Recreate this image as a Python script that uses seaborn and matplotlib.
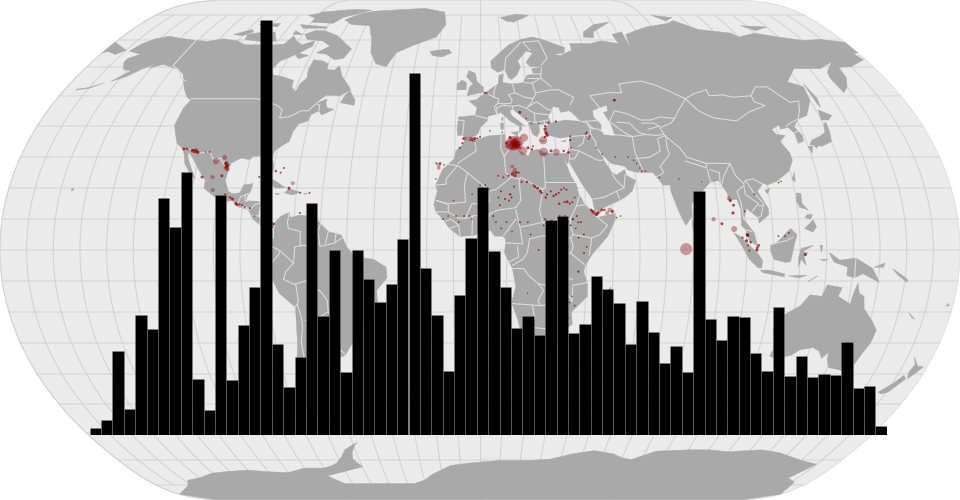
import numpy as np
import pandas as pd
import matplotlib
matplotlib.use("Agg")
import matplotlib.pyplot as plt
from matplotlib.patches import Polygon
import seaborn as sns

bar_values = [7, 15.3, 83.7, 25.7, 120.3, 105.7, 236.7, 208.3, 263.3, 55.7, 25.3, 240.3, 54.7, 109.7,
              147.7, 415, 90.7, 47.7, 78, 231.7, 118.7, 184.7, 63.3, 184.7, 156, 132.7, 150.7, 195.7,
              361.7, 167, 120.3, 64, 140, 196.7, 247.7, 183.7, 147.7, 106.7, 118.7, 100, 215, 218.7,
              101.7, 110.7, 159.3, 146, 131.7, 90.7, 134, 102.7, 72, 89, 62.7, 243.7, 116, 94.7,
              118.7, 117.7, 82, 63.7, 128.3, 59.3, 79.3, 58.3, 61.3, 60.3, 93.3, 47, 48.7, 9.3]

north_america = [(-168,65.6),(-166,68.3),(-162,70.3),(-156.5,71.3),(-150,70.5),(-141,69.7),(-135,69.3),(-128,70.3),(-120,69.5),(-115,68),(-108,68),(-100,68),(-96,68.3),(-94,71.5),(-91,69.5),(-87,68),(-82,69.5),(-81.5,67.5),(-87,64.5),(-93,62),(-94.5,59),(-92.5,57),(-88,56.5),(-82.5,55.2),(-82,52.9),(-79.5,51.3),(-79,54),(-77,56),(-78,59),(-77.5,62.5),(-73,62),(-70,61),(-69.5,59),(-66,58.8),(-64.5,60.3),(-61.5,56.5),(-57,53),(-56,51.8),(-60,50),(-66,50.2),(-70,47),(-65,49),(-65,47.5),(-64,46),(-61,45.5),(-65.5,43.6),(-67,45),(-70,43.7),(-70.5,41.7),(-74,40.7),(-75.5,38),(-76,35),(-78,34),(-81,32),(-81.3,30),(-80,26.8),(-80.4,25.2),(-81.8,26),(-82.8,28),(-84,30),(-86,30.4),(-89,30.2),(-90,29.2),(-93.5,29.7),(-97,28),(-97.5,25),(-97.8,22.5),(-96,19),(-94.5,18.2),(-91.5,18.5),(-90.5,21),(-87,21.5),(-87.5,19),(-88.5,17.5),(-88.8,15.9),(-84,15.8),(-83.3,14.8),(-83.7,11),(-82,9),(-79.5,9.6),(-77.4,8.7),(-78.3,8),(-80,7.3),(-81.5,8),(-83,8.3),(-85.5,10),(-87.5,13),(-91.5,14),(-94,16),(-96.5,15.7),(-101,17.3),(-105.5,20),(-105.5,22.5),(-109,26),(-112.7,30),(-114.8,31.8),(-114.5,30),(-111,25),(-109.5,23),(-112,24.7),(-115,28),(-116,30.5),(-117.2,32.5),(-120.5,34.5),(-122.5,37.5),(-124.3,40.3),(-124,46),(-122.7,48.5),(-125,49.5),(-128,52),(-130.5,54.5),(-133.5,57.5),(-138,59.2),(-146,60.8),(-151,59.5),(-150,61),(-154,59),(-158,56.5),(-163,54.8),(-158,58.5),(-162,59),(-165,61.5),(-165,63),(-161,64.5)]
south_america = [(-77.4,8.7),(-75,11),(-72,12.2),(-71.5,10.5),(-68,11.3),(-62,10.7),(-60,8.5),(-57,6),(-52,4.8),(-50,1),(-48,-1),(-44,-2.5),(-40,-3),(-35.3,-5.5),(-35,-9),(-39,-13),(-39,-18),(-41,-22),(-45,-23.5),(-48.5,-26),(-49,-29),(-53.5,-34),(-56.5,-34.9),(-58.4,-34),(-57,-36.5),(-58,-38.5),(-62,-39),(-65,-41),(-65,-45),(-68,-50),(-68.5,-52.5),(-65.3,-54.8),(-69,-55.5),(-74,-52),(-75.5,-47),(-73.5,-42),(-73.5,-37),(-71.5,-30),(-70.3,-18.5),(-76,-14),(-79,-8),(-81.3,-5),(-80,-2.5),(-80,1),(-78.5,2.5),(-77.3,4),(-77.4,7)]
africa = [(-6,35.8),(-2,35.2),(3,36.8),(10,37.3),(10.2,34),(11,33.2),(15,32.3),(19,30.3),(20,32),(23,32.6),(25,31.6),(29,31),(32.4,31.2),(32.6,29.9),(33.5,28),(35,24),(37,21),(37.5,18.5),(39.5,15),(43,12),(44,10.5),(51,11.9),(51,10),(48,4.5),(42,-1.5),(39.5,-5),(39,-7),(40.5,-11),(40.7,-15),(35,-20),(35.5,-24),(32.8,-26),(32.5,-29),(28,-33),(25,-34),(20,-34.8),(18.4,-34),(17,-29.5),(14.5,-22.5),(12,-17),(13.5,-12),(12.2,-6),(9.2,-1),(9.7,3.5),(8.5,4.5),(5.5,4.5),(4,6.3),(1,5.9),(-2,4.8),(-7.5,4.4),(-11.5,7),(-13.5,9.5),(-16.7,12.5),(-17.5,14.7),(-16.3,19),(-17,21),(-14.5,26),(-10,29.5),(-9.5,32),(-6.8,34)]
eurasia = [(-9,37),(-9.3,39),(-8.8,43),(-2,43.5),(-1.2,46),(-4.7,48.3),(-1.5,48.7),(1.5,50.5),(4,52),(8,54),(8.5,57),(10.5,57.5),(10,54.5),(14,54),(19,54.4),(21,57),(24,57.3),(23.5,59.3),(30,60),(23,60),(21.3,61.5),(25,65),(22,65.7),(17.5,62),(18.5,60),(16.5,57),(14,55.5),(12.8,56),(11.2,59),(8,58),(5.2,59.5),(5,62),(14,68),(20,70),(26,71),(31,70),(41,67),(40,65),(35,64.5),(38,64),(44,66),(44,68.5),(54,68.5),(60,69.5),(68,68.5),(67,72),(72.5,73),(73,67),(74,72),(80,73.5),(87,75),(100,76.5),(104,77.7),(113,74),(128,72.5),(130,71),(140,72.5),(150,71),(160,69.7),(170,70),(180,69),(180,65),(177.5,64.7),(179,62.5),(170,60),(164,59.8),(163,56),(160,53),(156.7,51),(155.7,56),(156.7,58),(163,61.7),(155,59.3),(143,59.3),(135.5,54.7),(141,53),(140,48.5),(135,43.5),(130.7,42.3),(127.5,39.8),(129.4,37),(129,35.2),(126.5,34.4),(126.6,37.7),(125,39.6),(121.5,39),(122,40.5),(118,39),(119,37.3),(122.5,37),(119.5,35),(121.8,31.5),(122,29),(119.5,25.5),(114,22.3),(110,21),(108.5,21.7),(105.8,19),(109,13.5),(109,11.5),(105,8.7),(105,10.3),(100.8,13.5),(99.3,10),(103,5.5),(104,1.4),(101,3),(100,6.5),(98.3,8),(98.6,13),(97.5,16.5),(94.5,16),(94.2,18.5),(91.5,22.5),(88,21.7),(86,20),(82,16.5),(80.2,15),(80,11),(77.5,8),(76,10.5),(74.5,14),(72.8,19),(72.8,21),(70,21),(69,22.5),(66.8,25),(61.5,25),(57.3,25.8),(56.3,27),(51,28),(48.7,30.2),(48,29.5),(50,26.5),(51,25),(52.5,24.2),(56,26),(56.5,24),(59.8,22.5),(58,19),(55,17),(52,15.7),(45,13),(43.3,12.8),(42.7,16.5),(39,21.5),(35,28),(34.8,29.5),(34.2,27.8),(32.6,29.9),(32.4,31.2),(34.2,31.3),(35.5,33.5),(36,36.6),(32,36.1),(30.5,36.5),(27.5,37),(26.3,39.5),(29,41),(35,42),(41.5,41.5),(38,44.5),(37,45),(33.5,44.5),(33,46),(30.7,46.5),(28,43),(29,41.2),(26,40.7),(24,40.5),(24,38),(22.8,36.5),(21.2,37.5),(19.5,41.5),(13.7,45.6),(12.4,45),(13,43.5),(18.4,40),(16.9,40.5),(17,39),(15.8,38),(16,40),(12.3,41.7),(8.8,44.4),(3.3,43.2),(3,41.8),(0,39.5),(-0.7,37.7),(-2,36.8),(-5.5,36),(-7,37.1)]
chukotka = [(-180,69),(-175,67.5),(-170,66),(-173,64.4),(-178,65.5),(-180,65)]
australia = [(114,-22),(113.5,-26),(115.7,-32),(115,-34.3),(118,-35),(123.5,-34),(126,-32.3),(131,-31.5),(134,-32.7),(136,-35),(138,-33),(138.5,-35.5),(140.5,-38),(144,-38.5),(146.5,-39),(150,-37.3),(151.5,-33),(153,-30),(153.5,-26),(150.8,-23),(146.5,-19),(145.5,-15),(143.5,-14),(142.5,-10.7),(141.5,-13.5),(140.8,-17.5),(135.7,-15),(136.8,-12.2),(131,-11.3),(129.5,-15),(125,-14.5),(122,-18),(117,-20.7)]
antarctica = [(-180,-85),(-163,-80.5),(-158,-78),(-150,-77),(-140,-75),(-130,-74.3),(-120,-73.8),(-110,-74.5),(-100,-74.8),(-90,-73),(-80,-73),(-75,-72),(-72,-71),(-68,-68.5),(-65,-66),(-60,-64),(-57.5,-63.3),(-59,-64),(-62,-67),(-63,-69.5),(-60,-72.5),(-81,-76.2),(-74.5,-79.5),(-36,-79.5),(-30,-78),(-25,-75.5),(-15,-72),(-5,-71),(10,-70),(25,-70),(35,-69.5),(45,-67.5),(55,-66.3),(65,-67.5),(70,-69),(75,-69.7),(85,-66.5),(100,-66),(110,-66),(120,-66.7),(135,-66),(145,-67),(160,-70),(170,-71.5),(165,-77),(172,-79),(180,-85),(180,-90),(-180,-90)]
arctic_islands = [
    [(-80,73.5),(-72,71.5),(-67,69),(-62,66.5),(-64,63),(-68,62.5),(-73,64.5),(-78,65),(-73,67.5),(-78,69.5),(-86,70),(-89,72),(-85,73.5)],
    [(-117,70),(-105,69),(-101,69.5),(-105,73),(-113,72.7),(-118,72)],
    [(-125,72),(-118,74),(-116,73),(-120,71.5)],
    [(-90,77),(-78,76.5),(-75,79),(-62,82.5),(-72,83),(-90,81.5)],
    [(-95,76),(-80,75),(-80,74.5),(-92,74.5)],
    [(-117,76),(-106,75),(-106,76.5)],
    [(-95,80),(-87,78),(-90,81)],
    [(-95,73.5),(-90,72),(-95,72)],
    [(-87,65),(-81,64),(-85,62.8),(-87,64)],
    [(-73,78),(-66,81),(-60,82),(-32,83.5),(-20,81.5),(-18,76),(-22,71),(-32,68),(-40,65),(-43,60),(-48,61),(-52,65),(-54,70),(-58,75.5),(-68,76)],
    [(11,79),(20,80.5),(27,80),(18,77),(14,77.5)],
    [(52,71),(57,70.7),(58,73),(69,77),(60,76),(53,73)],
    [(95,80),(105,79),(100,77.5)],
    [(137,75.5),(150,75),(142,73.5)],
]
islands = [
    [(-59,47.7),(-53,46.8),(-53,48.5),(-56,51.5),(-57.5,50.5)],
    [(-24,65.5),(-20,66),(-15,66.3),(-13.6,65),(-18,63.5),(-22.5,64)],
    [(-85,21.9),(-80,23),(-75,20.5),(-74.2,20.2),(-78,20),(-82,22.3)],
    [(-74.4,18.5),(-73,19.9),(-68.5,18.7),(-71.5,17.8)],
    [(-78.3,18.4),(-76.3,18.2),(-77,17.8)],
    [(-67.2,18.4),(-65.7,18.3),(-66.5,18)],
    [(-5.5,50),(1.4,51.2),(1.5,52.8),(-1.5,55),(-2,57.6),(-5,58.6),(-6,56.5),(-3,54),(-4.5,53),(-5,51.7)],
    [(-10,52),(-6,52),(-6,54.5),(-8,55.3),(-10,54)],
    [(12.5,38),(15.5,38.2),(15,36.7)],
    [(8.3,41),(9.7,41),(9.5,39),(8.5,39)],
    [(8.7,42.5),(9.5,43),(9.3,41.5)],
    [(23.6,35.5),(26.3,35.2),(24.5,34.9)],
    [(32.3,35),(34.5,35.6),(33.8,34.9)],
    [(49.3,-12),(50.5,-16),(47.5,-24.8),(45,-25.5),(43.5,-23),(44.3,-17),(46,-15.8)],
    [(80,9.7),(81.8,7.5),(80.5,6),(79.8,7.5)],
    [(130.9,34),(135.5,33.5),(140,35),(141,38),(141.4,41.3),(140,40.5),(139,38),(136.5,36.8),(132.5,35.5)],
    [(140,42),(141,45.3),(145.3,43.5),(143,42)],
    [(130,33.5),(131.8,33.5),(130.7,31.2)],
    [(132.5,33.8),(134.5,34),(133,32.8)],
    [(142,54.2),(143.5,49),(142.5,46),(142,48)],
    [(120,23),(121.5,25.2),(121,22)],
    [(108.7,19.3),(110.8,20),(109.5,18.2)],
    [(120,16),(120.6,18.5),(122.2,18.3),(122,15),(124,13),(121,13.8)],
    [(122,7),(125.5,9.8),(126.5,7.5),(125,5.8)],
    [(122.5,10.5),(123.5,11.5),(125.5,11.5),(124.5,10)],
    [(95.3,5.6),(98,4.2),(104,-1),(106,-3.3),(105.8,-5.8),(104.5,-5.8),(101,-3),(98.5,1)],
    [(105.3,-6.5),(108.5,-6.5),(114.5,-7.7),(114.5,-8.7),(106.5,-7.4)],
    [(109,1.5),(111.5,2.5),(116.7,7),(119,5),(117.7,1),(116.5,-3.8),(114.5,-4),(110.2,-3),(109,-0.5)],
    [(119.5,-5.5),(119.5,-2.5),(120.5,0.5),(125,1.5),(121,-0.5),(123,-1),(121.5,-2),(122.5,-5),(120.5,-3)],
    [(127.5,-3),(130.5,-3),(129,-3.6)],
    [(127.5,1.5),(128.5,1.5),(128,-0.8)],
    [(131,-0.8),(135,-3.3),(141,-2.6),(147.5,-6),(150.5,-10.5),(144,-7.7),(141,-9),(138,-8.3),(138,-5.5),(133,-4),(132,-2.7)],
    [(116,-8.4),(119,-8.2),(123,-8.2),(120,-9)],
    [(123.5,-10.3),(127,-8.4),(125,-9.5)],
    [(148,-5.6),(152,-4.2),(151.5,-5.6)],
    [(155,-6),(161,-9.5),(161,-10.5),(157,-8)],
    [(164,-20.3),(167,-22.4),(165.5,-21.8)],
    [(144.7,-40.8),(148.3,-40.8),(147,-43.6),(145.5,-42.8)],
    [(172.7,-34.5),(176,-37.5),(178.5,-37.7),(177,-39.5),(175,-41.6),(173.8,-39.5),(174.7,-37)],
    [(172.7,-40.5),(174.3,-41.7),(170.7,-45.9),(168.5,-46.6),(166.5,-46),(170.5,-43)],
    [(178,-17.3),(178.7,-18),(177.4,-18.2)],
    [(-156,20),(-155,19.7),(-155.7,19)],
    [(-61,-51.4),(-58,-51.4),(-59.5,-52.2)],
    [(-175,52.2),(-170,52.8),(-165,54.4),(-170,52.5),(-175,51.9)],
]
caspian = [(47,45),(53,46.7),(53,45),(51,44.5),(53,41),(54,37),(50,37.3),(49,38.5),(49.5,40.5),(47,43)]

borders_americas = [
    [(-141,69.7),(-141,60.3),(-137,59),(-133,56),(-130,55)],
    [(-123,49),(-95,49),(-89.5,48),(-84.5,46.5),(-82.5,45.3),(-82.5,42.7),(-79,43),(-76.5,44),(-74.7,45),(-71.5,45),(-70,46.5),(-69,47.3),(-67.5,47),(-67,45)],
    [(-117.1,32.5),(-114.7,32.7),(-111,31.3),(-108,31.5),(-106.5,31.7),(-104.5,29.6),(-103,29),(-101.5,29.8),(-99.5,27.5),(-97.2,25.9)],
    [(-92,14.6),(-91,17.2),(-89,17.9),(-88.3,18.3)], [(-89.2,17.9),(-89.2,15.9),(-88.2,15.7)],
    [(-90,13.8),(-89.2,14.3),(-88,13.2)], [(-89.2,14.3),(-87,13),(-85,14.9),(-83.2,15)],
    [(-85.7,11.2),(-83.7,11)], [(-83,8.3),(-82.8,9.5)], [(-77.3,8.6),(-77.3,7.5)],
    [(-72,12),(-72.5,9),(-72,7),(-67.5,6),(-67.5,2),(-66.9,1.2)],
    [(-60,8.5),(-61,5.5),(-60.7,5.2)], [(-57,6),(-58,2)], [(-54,5.8),(-54.5,2.3)],
    [(-51.7,4),(-54.5,2.3),(-58,1.5),(-60,1.2),(-60.7,5.2),(-64,4),(-64,1.5),(-67,1.5),(-69.5,1),(-69.9,-4.2),(-73,-7),(-74,-9.5),(-70.5,-11),(-69.5,-11),(-65.5,-10),(-60,-13.7),(-58,-16.3),(-58,-20),(-55,-24),(-54.5,-26),(-57.5,-30),(-53.5,-33.7)],
    [(-80.3,-3.4),(-78.5,-4.5),(-75.5,-1.5),(-75,-0.2),(-78.8,1.4)], [(-75,-0.2),(-70,-4.2)],
    [(-69.5,-11),(-69,-16.3),(-69.5,-17.5),(-70.4,-18.4)],
    [(-69.5,-17.5),(-68.5,-22),(-68.5,-24.5),(-70,-30),(-70,-35),(-71.5,-40),(-72,-50),(-69,-52)],
    [(-67,-22.8),(-62.6,-22.2),(-58,-20)], [(-62.6,-22.2),(-58,-27.2),(-54.5,-26)], [(-57.5,-30),(-58.3,-34)],
]
borders_africa = [
    [(-2,35),(-1.5,32),(-8.7,28)], [(-8.7,27.3),(-13,27.7)], [(-17,21),(-13,21.3),(-13,23),(-8.7,27.3)],
    [(-4.8,25),(-6,21),(-5.5,15.5),(-12,15),(-16.5,16)], [(-8.7,27.3),(-4.8,25),(1.2,20.8),(3.2,19),(4.2,19.2),(6,19.5),(12,23.5)],
    [(9.5,30.2),(10,25),(12,23.5)], [(8.5,37),(8.2,33),(9.5,30.2),(11.5,32.5)], [(25,31.6),(25,20)],
    [(25,20),(24,20),(24,19.5),(16,23.4),(15,23)], [(15,23),(15.5,16),(13.5,13.7)], [(12,23.5),(15,23)],
    [(3.6,11.7),(7,13),(10,13.3),(13.5,13.7)], [(24,19.5),(22.5,13),(23.5,9)], [(25,22),(36.9,22)],
    [(23.5,9),(27,9.5),(33,10),(34,10)], [(36.5,14.3),(34,10),(34,8)], [(34,8),(35,5)], [(36.5,14.3),(38,18)],
    [(36.5,14.3),(40,14.7),(43,12.5)], [(43,11.5),(47.9,8),(45,5),(41.9,3.9)], [(41.9,3.9),(41,-1.7)],
    [(35,5),(41.9,3.9)], [(35,5),(34,4),(31,3.7),(29.6,-1.4),(29,-4.5),(29,-8.5)], [(34,-1),(37.5,-3.5),(39.2,-4.7)],
    [(29.6,-1),(34,-1),(35,1),(34,4)], [(40.4,-10.5),(34.9,-11.5)], [(34.9,-9.5),(29,-8.5)],
    [(22,-11),(28,-12),(29.5,-13),(28.5,-9)], [(12.2,-6),(16.5,-6),(18,-8),(22,-11)], [(22,-11),(24,-13),(22,-16.5),(23,-18)],
    [(11.7,-17.3),(23,-18),(25,-17.8)], [(20,-18),(21,-22),(20,-25),(20,-28.5),(16.5,-28.6)],
    [(20,-25),(25.5,-25.5),(29,-22.2),(31.5,-22.3)], [(31.5,-22.3),(33,-19),(30.5,-15.6)], [(25,-17.8),(30.5,-15.6)],
    [(33,-14),(35,-16.8),(35,-12)], [(32,-26.8),(31.5,-22.3)], [(18.6,3.6),(23,4.5),(27.5,5)],
    [(12.2,-5),(16,-3),(17.7,-1),(18.6,3.6)], [(11,-3.8),(14.5,-2.3),(14,1.3)], [(9.8,2.3),(16,2),(15,7.5),(13.5,13)],
    [(8.8,4.6),(13.5,10)], [(15.5,7.5),(18.5,8),(23.5,9)], [(23.5,9),(27.5,5)], [(2.7,6.3),(3.6,11.7)],
    [(1.2,6.1),(0,11)], [(-3,5),(-2.8,11)], [(-5.5,10.3),(-2.8,11),(2.4,11.5)], [(-5.5,10.3),(-3,15),(1,15)],
    [(3.2,19),(3.5,15.5),(1,15),(2.4,11.5),(3.6,11.7)], [(-12,12.3),(-8,10.3),(-5.5,10.3)],
    [(-16.5,16),(-12,14.7),(-12,12.3),(-16.7,12.4)], [(-13,9.3),(-11,10),(-8,8)], [(-11.5,7),(-8,8),(-7.5,4.4)],
]
borders_eurasia = [
    [(-1.8,43.4),(3,42.5)], [(-8.8,42),(-6.5,41.7),(-7,37.2)], [(2.5,51),(6,49.5),(8,49),(7.5,47.5),(6,46.2),(7,44),(7.5,43.8)],
    [(6,49.5),(6,51.5),(7,53.3)], [(14.2,54),(15,51),(12.2,50.3),(13.7,48.5),(13,47.5),(10,47.3),(7.5,47.5)],
    [(19.5,54.4),(23,54.3),(24,50.5),(22.5,49),(19,49.5),(15,51)], [(7,44),(7,46),(10,46.8),(13.7,46.5),(13.7,45.6)],
    [(13.7,46.5),(16,46.8),(19,46),(22.5,44.2),(22.5,41.2),(19.5,41.5)], [(22.5,49),(22,48),(20,46.2)],
    [(20,46.2),(24,48),(28,45.5),(29.7,45.3)], [(22.5,44.2),(28.5,43.7)], [(22.5,41.2),(26.3,41.7),(28,42)],
    [(26.3,40.7),(26.3,41.7)], [(38,47),(40,49.5),(34,52),(31,52),(24,51)], [(23,54.3),(27,56),(31,53)],
    [(28,59.5),(27,56)], [(21,56),(26,56)], [(24,57.3),(27.5,57.5)], [(28,60.5),(31.5,63),(29,69.5)],
    [(11.2,59),(12,63),(20,69)], [(24,66),(21,69),(29,69.5)],
    [(36,36.6),(42,37),(44.5,37.2),(44.5,39.5),(43.5,41.2),(41.5,41.5)], [(42,37),(41,34.5),(38.8,33.4)], [(39,32),(36,32.5)],
    [(44.5,37.2),(46,35),(46,33),(48.5,30)], [(48,29),(46,29),(39,32)], [(39,32),(37,29.5),(35,29.3)],
    [(43,16.5),(47,17),(52,19),(55,20),(52,23),(51,24.5)], [(55,20),(56,24.5)], [(52,19),(53,16.6)], [(35.5,33.3),(35,29.5)],
    [(41.5,41.5),(47,41.8),(49,41.7)], [(43.5,41.2),(46,39),(45,39.7)], [(44.5,39.5),(48,39),(48.8,38.4)],
    [(50,46),(47,50),(55,51),(61,51),(61,54),(71,55),(77,53.5),(83,51),(87.3,49)],
    [(53,41.5),(56,45),(61,44),(66,42),(70,42),(74,43),(80,42.5),(82.5,45),(85,47),(87.3,49)],
    [(87.3,49),(92,50.7),(98,52),(98,50),(104,50.3),(108,49.5),(116,50),(116,48),(119.8,46.7),(112,44.7),(105,41.7),(96,42.7),(91,45),(87.3,49)],
    [(116,50),(120,53),(125,53),(131,47.8),(135,48.3),(133,45),(130.7,42.3)], [(124.3,40),(128,41.5),(130.7,42.3)], [(126.6,37.8),(128.5,38.5)],
    [(53,41.5),(58,38),(61,36.6),(66.5,37.3),(71,37),(74,37.4),(73,39.5),(78,41),(80,42.5)],
    [(56,41.3),(61,41),(64,38),(66.5,37.3)], [(66,41),(71,41),(73,40),(68,39)], [(54,37.3),(61,36.6)],
    [(61,36.6),(61,31.5),(63,26),(61.5,25)], [(74.5,37),(71,36),(71,32),(66.5,30),(61,29.5)],
    [(74.5,37),(74,33),(74.5,31),(70,27),(71,25),(68.2,23.7)], [(74,37),(79,33),(81,30),(88,28),(92,28),(97.3,28)],
    [(80,28.8),(88,26.5),(88,28)], [(88,26),(88.5,22),(92,21),(92.5,25),(89,26)], [(97.3,28),(94,24),(92.5,21)],
    [(97.3,28),(98.5,24),(101,21.5),(102,22.5),(105,23),(108,21.5)], [(101,21),(98,19),(99,15),(99.3,10)],
    [(101,21),(101,18),(105.5,15),(102.8,12.5)], [(102,22.5),(104,19),(107.5,15),(106,11),(104.5,10.4)],
    [(105.5,14.3),(107.5,14.5)], [(100.2,6.5),(102,6)], [(109.6,2),(115,3),(117.5,4.2)], [(141,-2.6),(141,-9)],
]

dots_america = [(-117,32.6,1.5),(-116,32.7,1),(-115.5,32.6,1),(-113.5,32.2,1.5),(-113,32,2),(-112.5,32,2),(-112,31.8,2),(-111.5,31.8,2),(-112,32.2,2),(-111,31.5,1.5),(-108,31.6,.8),(-106.5,31.7,1),
    (-98.5,27,1.5),(-98.7,26.5,2),(-98.3,26.8,2),(-98,26.3,2),(-98.1,27.5,1.5),(-98.8,28.2,1.5),(-99,27.8,1.5),(-97.7,26,1.8),(-100,29.9,2.5),(-103,28.7,3),(-107,23.6,1.5),(-103,23.6,2),(-102,19.4,2),(-99.5,24,1.5),
    (-97,18,1),(-95,17,1.2),(-94,16.5,1.5),(-92.5,15,1.5),(-92,14.7,1.5),(-91,14.8,1),(-90,14.5,1),(-89,14,1),(-87,13.5,1),(-71.8,21.6,2),(-73,20,1.5),(-68.5,18.5,1),(-65,18.5,1),(-76,26.5,1),(-79,25.5,1.2),(-77,25,1),(-68,12,1),(-77.7,8.4,1.5),(-78,7.5,1),(-85,23.6,1),(-85,11,.8)]
dots_libya = [(14,34,3.2),(13.5,34.5,3),(14.5,34.8,3),(15,34,3),(14,33.5,3),(13,33.8,3),(12.5,34.3,2.8),(12,33.5,2.8),(13,35,2.8),(14,35.3,2.8),(15,35.3,2.8),(15.5,34.5,2.8),(13.5,33.2,2.8),(15,33.4,2.8),(16,33.5,2.5),(11.5,34.5,2.5),(12,35.5,2.5),(12,33,2.5),(14,36,2.5),(13,36,2.5),(11,33.8,2.2),(14.5,33,2.2),(13,34.3,3),(14.5,34.3,3),(11,35,2),(10.8,33.5,2),(13,32.8,2.2),(15.5,32.8,2),(16,36,1.8),(15,36.3,1.8),(12,36.3,1.6),(16.5,34.7,2.2),(10.5,34.5,1.5),(13.8,34.8,3),(13.8,33.9,3),(14.8,33.9,2.8),
    (17.6,36.3,4),(17,32,4),(25,31.6,4.5),(25.2,35.4,4),(30,31.6,3.5),(19,33,1.5),(20.5,32.5,1.2),(21,33.5,1),(28,32,1.5),(33,32,1.2),(35,31.5,1.2),(25,31,1),(77.3,0.3,6)]
dots_med = [(-6.5,36,1.5),(-5.5,36,1.8),(-4,35.8,2),(-3.5,35.9,2.2),(-3,35.7,2),(-2.5,35.5,2),(-2,36,1.5),(-1,36,1),(0,36.5,1),(-7,34.5,1),(-8,33,1),(-16,27.5,2),(-16,26.5,1.8),(-15.5,28,1.2),(-17,28,1),(-14,27.5,.8),(-17,23,.8),(4,38.5,.8),(9,38,.8),(26.5,40,1.2),(26.3,39,1.6),(26.5,38,1.6),(26.8,37.5,1.6),(27,37,1.5),(26,36.5,1.2),(24,41,.8),(21,41,.8),(19,42.5,.8),(16.5,44.5,1.5),(2,51,1),(2.5,51,.8),(3,50.8,.8),(28,41,1.2),(31,41.5,1.2),(42.5,37.5,1),(43,38,1),(44,36.8,1),(43.5,36,1),(36,35.5,1.2),(36.2,36.7,1),(36,33,.8),(34.5,31.5,.8),(57,48.5,1.5),(46,33,.8),(48,31,.8),(53,30,.8),(60,29,.8),(61,28,.8),(62,26.5,.8),(62.5,25.5,1),(64,25.5,.8),(58,30,.8),(69,23.5,.8)]
dots_africa = [(12.5,27,1.8),(13.5,26,1.8),(13,25,2.2),(12.5,24.5,1.5),(13.5,24,1.5),(14,25,1.5),(11,24,1),(9,23.5,.9),(7,24,.9),(15,25,1),(16,22,1),(2,21,.8),(3,19.5,2),(-3,18,.8),(0,21,.8),(13,20.5,1),(8,19,1),(12,17,1),(11.5,18,1.2),(9.5,16.5,1),(11,16,1),(7,17,1),(7.5,14.5,1),
    (18,22,1.2),(20.5,21,1),(21,20.5,1.4),(22,20,1.4),(23,19,1.4),(23.5,18.5,1.2),(27,19,1),(28,17.5,1.2),(29,18,1.2),(30,18.5,1),(31,19.5,1),(32,20,.9),(33,19.5,1),(25,17,1.2),(25.5,18,1),(30,15,1.2),(32,15.5,1),(33,15.6,1.5),(34,15,1),(35,15.5,1),(36,17,.9),(30,11,1),(31,10,1.2),(32,11,1),(27,9.5,1.2),(26,9,1),(24,8,1),(24.5,10,1),(29,8,1.2),(31,7,1),(33,9,1.2),(35,10,1.2),(34,8,1),(36,7,.9),(37,9,1),(36.5,11,1),(38,9,1),(15,9,1),(18,9,.9),(-14,10,.9),(-12,11,.8),(-9,11,1),(-6,11,.9),(-4,11,.9),(-8,9,.9),(-3,10,.8),(0,12,.9),(2,11,1),(5,11,1),(6,9,.9),(8,7,.9),(10,9,.9),(12,6,.8),(19,5,.9),(22,0,.9),(30,-2,.9),(28,2,1),(33,1,.9),(40,1,.9),(39,5,1),(37,4,.9),(39,-1,1),(37,-7,1.2),(30,-15,.9),(34,-17,.9),(36,-18,.9),(34,-22,.8),(32,-25,.9),(35,-15,.8),(18,-14,.7),(-10,16,.8)]
dots_horn = [(43,12.2,2),(43.5,11.8,2),(44,11.5,1.6),(44.5,12,1.6),(45,12.5,1.8),(46,13,1.5),(48,12,2),(49,13,2.2),(50,12.5,1.6),(47,13,1.2),(51.5,10.5,.8),(53,11,.8),(42,13,1.2),(42.5,12.5,1.5)]
dots_asia = [(94.5,16.7,2),(95,16,1.5),(96,14.5,1.4),(95.5,12,1.6),(88,10,2.2),(95.5,6.8,3),(91,8.5,1.5),(98.5,4,1.1),(100.3,5,1.6),(100.5,4.7,1.5),(101.5,2.5,1.3),(104,0.8,1.4),(104.5,1.5,1.4),(103.8,0,1.6),(100,3,1.5),(100.5,1.5,1),(101,-0.2,1),(112,4.5,.9),(114.5,4.5,.9),(116,5.5,.9),(122,-1.5,1.5),(114.5,21.8,.9),(115.5,22.2,.8),(104.5,18,.9),(85,22,.6),(76.5,23,.7),(100,12.5,.9)]

sea_colour = "#ebebeb"
land_colour = "#a9a9a9"
parallel_colour = "#dcdcdc"
meridian_colour = "#d2d2d2"
border_colour = "#dcdcdc"
dot_colour = "#8b0000"


def project(lon, lat):
    """d3.geoNaturalEarth1 fitted to the 960x500 canvas."""
    lam = np.radians(np.asarray(lon, float))
    phi = np.radians(np.asarray(lat, float))
    p2 = phi * phi
    p4 = p2 * p2
    x = lam * (0.8707 - 0.131979 * p2 + p4 * (-0.013791 + p4 * (0.003971 * p2 - 0.001529 * p4)))
    y = phi * (1.007226 + p2 * (0.015085 + p4 * (-0.044475 + 0.028874 * p2 - 0.005916 * p4)))
    return 480 + 175.5 * x, 250 - 175.5 * y


def pts(seq):
    arr = np.array(seq, float)
    return np.column_stack(project(arr[:, 0], arr[:, 1]))


sns.set_theme(style="white")
fig = plt.figure(figsize=(9.6, 5.0), dpi=100, facecolor="white")
ax = fig.add_axes([0, 0, 1, 1])

# sphere
lat_s = np.linspace(-90, 90, 181)
left = np.column_stack(project(np.full_like(lat_s, -180), lat_s))
right = np.column_stack(project(np.full_like(lat_s, 180), lat_s))[::-1]
ax.add_patch(Polygon(np.vstack([left, right]), closed=True, fc=sea_colour, ec=parallel_colour, lw=0.6, zorder=1))

# graticule
for lat in range(-80, 81, 10):
    lo = np.linspace(-180, 180, 73)
    ax.plot(*project(lo, np.full_like(lo, lat)), color=parallel_colour, lw=1.1, zorder=2)
for lon in range(-180, 180, 10):
    la = np.linspace(-90, 90, 91) if lon % 90 == 0 else np.linspace(-80, 80, 81)
    ax.plot(*project(np.full_like(la, lon), la), color=meridian_colour, lw=0.75, zorder=2)

# land
land = [north_america, south_america, africa, eurasia, chukotka, australia, antarctica] + arctic_islands + islands
for shape in land:
    ax.add_patch(Polygon(pts(shape), closed=True, fc=land_colour, ec=land_colour, lw=0.3, zorder=3))
ax.add_patch(Polygon(pts(caspian), closed=True, fc=sea_colour, ec=sea_colour, lw=0.3, zorder=3))

# borders
for line in borders_americas + borders_africa + borders_eurasia:
    xy = pts(line)
    ax.plot(xy[:, 0], xy[:, 1], color=border_colour, lw=0.8, zorder=4, solid_joinstyle="round")

# incidents: pale large circles first, then the small dark ones
dots = pd.DataFrame(dots_america + dots_libya + dots_med + dots_africa + dots_horn + dots_asia, columns=["lon", "lat", "r"])
dots["x"], dots["y"] = project(dots["lon"], dots["lat"])
dots["area"] = (2 * dots["r"] * 0.72) ** 2
for subset, opacity in ((dots[dots["r"] > 1.7], 0.36), (dots[dots["r"] <= 1.7], 0.7)):
    sns.scatterplot(data=subset, x="x", y="y", size="area", size_norm=(subset["area"].min(), subset["area"].max()),
                    sizes=(subset["area"].min(), subset["area"].max()), color=dot_colour, alpha=opacity,
                    linewidth=0, legend=False, ax=ax, zorder=5)
ax.set_xlim(0, 960)
ax.set_ylim(500, 0)
ax.axis("off")

# histogram
bar_ax = fig.add_axes([89.7 / 960, (500 - 435) / 500, 797 / 960, 415 / 500])
bar_ax.patch.set_alpha(0)
frame = pd.DataFrame({"bin": np.arange(len(bar_values)), "value": bar_values})
sns.barplot(data=frame, x="bin", y="value", color="black", saturation=1, width=1.0,
            edgecolor=(0.62, 0.62, 0.62, 0.38), linewidth=0.5, ax=bar_ax)
bar_ax.set_xlim(-0.5, len(bar_values) - 0.5)
bar_ax.set_ylim(0, 415)
bar_ax.axis("off")

fig.savefig("out.png", dpi=100)
